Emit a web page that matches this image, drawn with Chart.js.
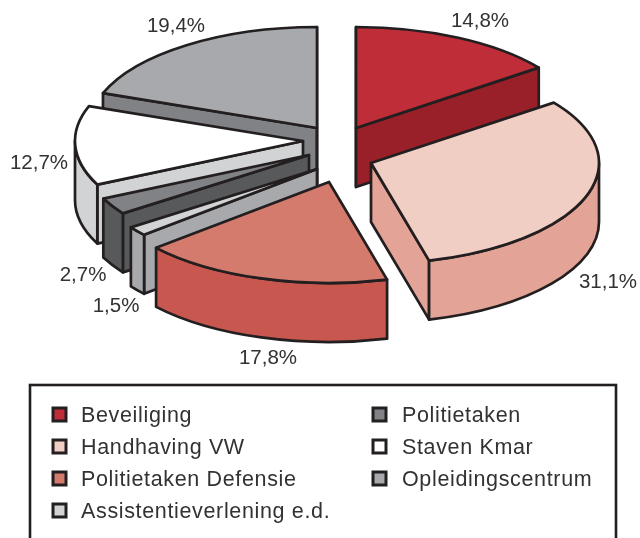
<!doctype html>
<html lang="nl">
<head>
  <meta charset="utf-8">
  <title>Verdeling</title>
  <script src="https://cdn.jsdelivr.net/npm/chart.js"></script>
  <style>
    html, body { margin: 0; background: #fff; }
    canvas { display: block; }
  </style>
</head>
<body>
  <canvas id="chart" width="640" height="538"></canvas>

  <script>
    const categories = ['Beveiliging', 'Handhaving VW', 'Politietaken Defensie', 'Assistentieverlening e.d.', 'Politietaken', 'Staven Kmar', 'Opleidingscentrum'];
    const shares = [14.8, 31.1, 17.8, 1.5, 2.7, 12.7, 19.4];

    const topColors = ['#be2d38', '#f1cec3', '#d47b6e', '#d1d3d4', '#808285', '#ffffff', '#a7a9ac'];
    const sideColors = ['#991f28', '#e3a396', '#c7574f', '#a7a9ac', '#58595b', '#d1d3d4', '#808285'];

    // how far each slice is pulled out of the pie, in pixels
    const explodeX = [26, 41, -1, -13, -21, -27, -13];
    const explodeY = [-22, 13, 32, 19, 5, -9, -22];
    // where the percentage labels sit
    const labelX = [480, 608, 268, 116, 83, 39, 176];
    const labelY = [21, 282, 358, 306, 275, 163, 26];

    const ink = '#231f20';
    const tilt = 0.443;
    const depth = 59;

    function facePath(ctx, x, y, a, b, rx, ry) {
      ctx.beginPath();
      ctx.moveTo(x, y);
      ctx.ellipse(x, y, rx, ry, 0, a, b);
      ctx.closePath();
    }

    function paint(ctx, fill) {
      ctx.fillStyle = fill;
      ctx.fill();
      ctx.stroke();
    }

    function wallQuad(ctx, x, y, a, rx, ry, fill) {
      const px = x + rx * Math.cos(a);
      const py = y + ry * Math.sin(a);
      ctx.beginPath();
      ctx.moveTo(x, y);
      ctx.lineTo(px, py);
      ctx.lineTo(px, py + depth);
      ctx.lineTo(x, y + depth);
      ctx.closePath();
      paint(ctx, fill);
    }

    const pie3d = {
      id: 'pie3d',
      beforeDatasetDraw(chart) {
        const ctx = chart.ctx;
        const arcs = chart.getDatasetMeta(0).data;
        const order = arcs.map((_, i) => i).sort((p, q) => explodeY[p] - explodeY[q]);

        ctx.save();
        ctx.strokeStyle = ink;
        ctx.lineWidth = 2.7;
        ctx.lineJoin = 'round';

        order.forEach(i => {
          const arc = arcs[i];
          const x = arc.x + explodeX[i];
          const y = arc.y + explodeY[i];
          const rx = arc.outerRadius;
          const ry = rx * tilt;
          const a = arc.startAngle;
          const b = arc.endAngle;

          // cut faces that look towards the viewer
          if (Math.cos(a) < 0.001) wallQuad(ctx, x, y, a, rx, ry, sideColors[i]);
          if (Math.cos(b) > -0.001) wallQuad(ctx, x, y, b, rx, ry, sideColors[i]);

          // rim, only the front half of the ellipse shows
          const from = Math.max(a, 0);
          const to = Math.min(b, Math.PI);
          if (to > from) {
            ctx.beginPath();
            ctx.ellipse(x, y, rx, ry, 0, from, to);
            ctx.lineTo(x + rx * Math.cos(to), y + ry * Math.sin(to) + depth);
            ctx.ellipse(x, y + depth, rx, ry, 0, to, from, true);
            ctx.closePath();
            paint(ctx, sideColors[i]);
          }

          facePath(ctx, x, y, a, b, rx, ry);
          paint(ctx, topColors[i]);
        });
        ctx.restore();
        return false;
      },
      afterDraw(chart) {
        const ctx = chart.ctx;
        ctx.save();

        // percentage labels
        ctx.font = '20.5px "Liberation Sans"';
        ctx.fillStyle = '#333132';
        ctx.textAlign = 'center';
        ctx.textBaseline = 'middle';
        shares.forEach((v, i) => {
          ctx.fillText(v.toFixed(1).replace('.', ',') + '%', labelX[i], labelY[i]);
        });

        // legend box runs off the bottom of the page
        ctx.strokeStyle = ink;
        ctx.lineWidth = 2.6;
        ctx.strokeRect(30, 385, 586, 170);

        ctx.textAlign = 'left';
        ctx.font = '21.5px "Liberation Sans"';
        ctx.letterSpacing = '0.65px';
        categories.forEach((name, i) => {
          const col = i < 4 ? 0 : 1;
          const row = i < 4 ? i : i - 4;
          const boxX = col ? 373 : 53;
          const rowY = 415 + row * 32;
          ctx.fillStyle = topColors[i];
          ctx.lineWidth = 3;
          ctx.fillRect(boxX, rowY - 7, 13, 13);
          ctx.strokeRect(boxX, rowY - 7, 13, 13);
          ctx.fillStyle = '#333132';
          ctx.fillText(name, col ? 402 : 81, rowY + 1);
        });
        ctx.restore();
      }
    };

    new Chart(document.getElementById('chart'), {
      type: 'pie',
      data: {
        labels: categories,
        datasets: [{ data: shares, backgroundColor: topColors, radius: 228 }]
      },
      options: {
        responsive: false,
        animation: false,
        // leaves the chart area centred on (330, 150)
        layout: { padding: { left: 230, right: 210, top: 50, bottom: 288 } },
        plugins: { legend: { display: false }, tooltip: { enabled: false } }
      },
      plugins: [pie3d]
    });
  </script>
</body>
</html>
